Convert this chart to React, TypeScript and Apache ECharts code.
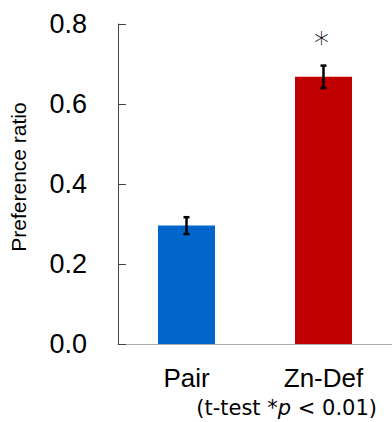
import React, { useEffect, useRef } from "react";
import * as echarts from "echarts";

const categories = ["Pair", "Zn-Def"];
const means = [0.296, 0.668];
const errors = [0.021, 0.028];
const significance = ["", "*"];
const barColors = ["#0066CC", "#C00000"];
const yTicks = { min: 0, max: 0.8, interval: 0.2 };

export default function App() {
  const ref = useRef<HTMLDivElement>(null);
  useEffect(() => {
    if (!ref.current) return;
    const chart = echarts.init(ref.current, undefined, { renderer: "svg" });
    const errData = categories.map((c, i) => [i, means[i] - errors[i], means[i] + errors[i], significance[i]]);
    chart.setOption({
      animation: false,
      backgroundColor: "#ffffff",
      grid: { left: 113, top: 24, width: 282, height: 320 },
      xAxis: {
        type: "category",
        data: categories,
        axisLine: { lineStyle: { color: "#aaaaaa", width: 1 } },
        axisTick: { show: false },
        axisLabel: { color: "#000", fontSize: 26, fontFamily: "Liberation Sans", margin: 21 },
      },
      yAxis: {
        type: "value",
        min: yTicks.min,
        max: yTicks.max,
        interval: yTicks.interval,
        name: "Preference ratio",
        nameLocation: "middle",
        nameRotate: 90,
        nameGap: 89,
        nameTextStyle: { color: "#000", fontSize: 21, fontFamily: "Liberation Sans", padding: [0, 0, 0, 14] },
        axisLine: { show: true, lineStyle: { color: "#444", width: 1 } },
        axisTick: { show: true, inside: true, length: 8, lineStyle: { color: "#444" } },
        splitLine: { show: false },
        axisLabel: {
          color: "#000",
          fontSize: 27,
          fontFamily: "Liberation Sans",
          margin: 31,
          formatter: (v: number) => v.toFixed(1),
        },
      },
      series: [
        {
          type: "bar",
          data: means.map((v, i) => ({ value: v, itemStyle: { color: barColors[i] } })),
          barWidth: 57,
        },
        {
          type: "custom",
          data: errData,
          z: 10,
          renderItem: (params: any, api: any) => {
            const x = api.coord([api.value(0), 0])[0];
            const lo = api.coord([api.value(0), api.value(1)])[1];
            const hi = api.coord([api.value(0), api.value(2)])[1];
            const sig = errData[params.dataIndex][3] as string;
            const cap = 3;
            const style = { stroke: "#000", lineWidth: 2.5 };
            const children: any[] = [
              { type: "line", shape: { x1: x, y1: lo, x2: x, y2: hi }, style },
              { type: "line", shape: { x1: x - cap, y1: lo, x2: x + cap, y2: lo }, style },
              { type: "line", shape: { x1: x - cap, y1: hi, x2: x + cap, y2: hi }, style },
            ];
            if (sig) {
              children.push({
                type: "text",
                style: {
                  text: sig,
                  x: x - 2,
                  y: hi - 8,
                  align: "center",
                  verticalAlign: "bottom",
                  fontSize: 30,
                  fontFamily: "DejaVu Sans",
                  fontWeight: 300,
                  fill: "#000",
                },
              });
            }
            return { type: "group", children };
          },
        },
      ],
      graphic: [
        {
          type: "text",
          right: 15,
          top: 397,
          style: {
            text: "{a|(t-test *}{p|p}{a| < 0.01)}",
            rich: {
              a: { fontSize: 21, fontFamily: "DejaVu Sans", fill: "#000" },
              p: { fontSize: 21, fontFamily: "DejaVu Sans", fontStyle: "italic", fill: "#000" },
            },
          },
        },
      ],
    });
    return () => chart.dispose();
  }, []);
  return <div ref={ref} style={{ width: 392, height: 422, position: "absolute", left: 0, top: 0 }} />;
}
